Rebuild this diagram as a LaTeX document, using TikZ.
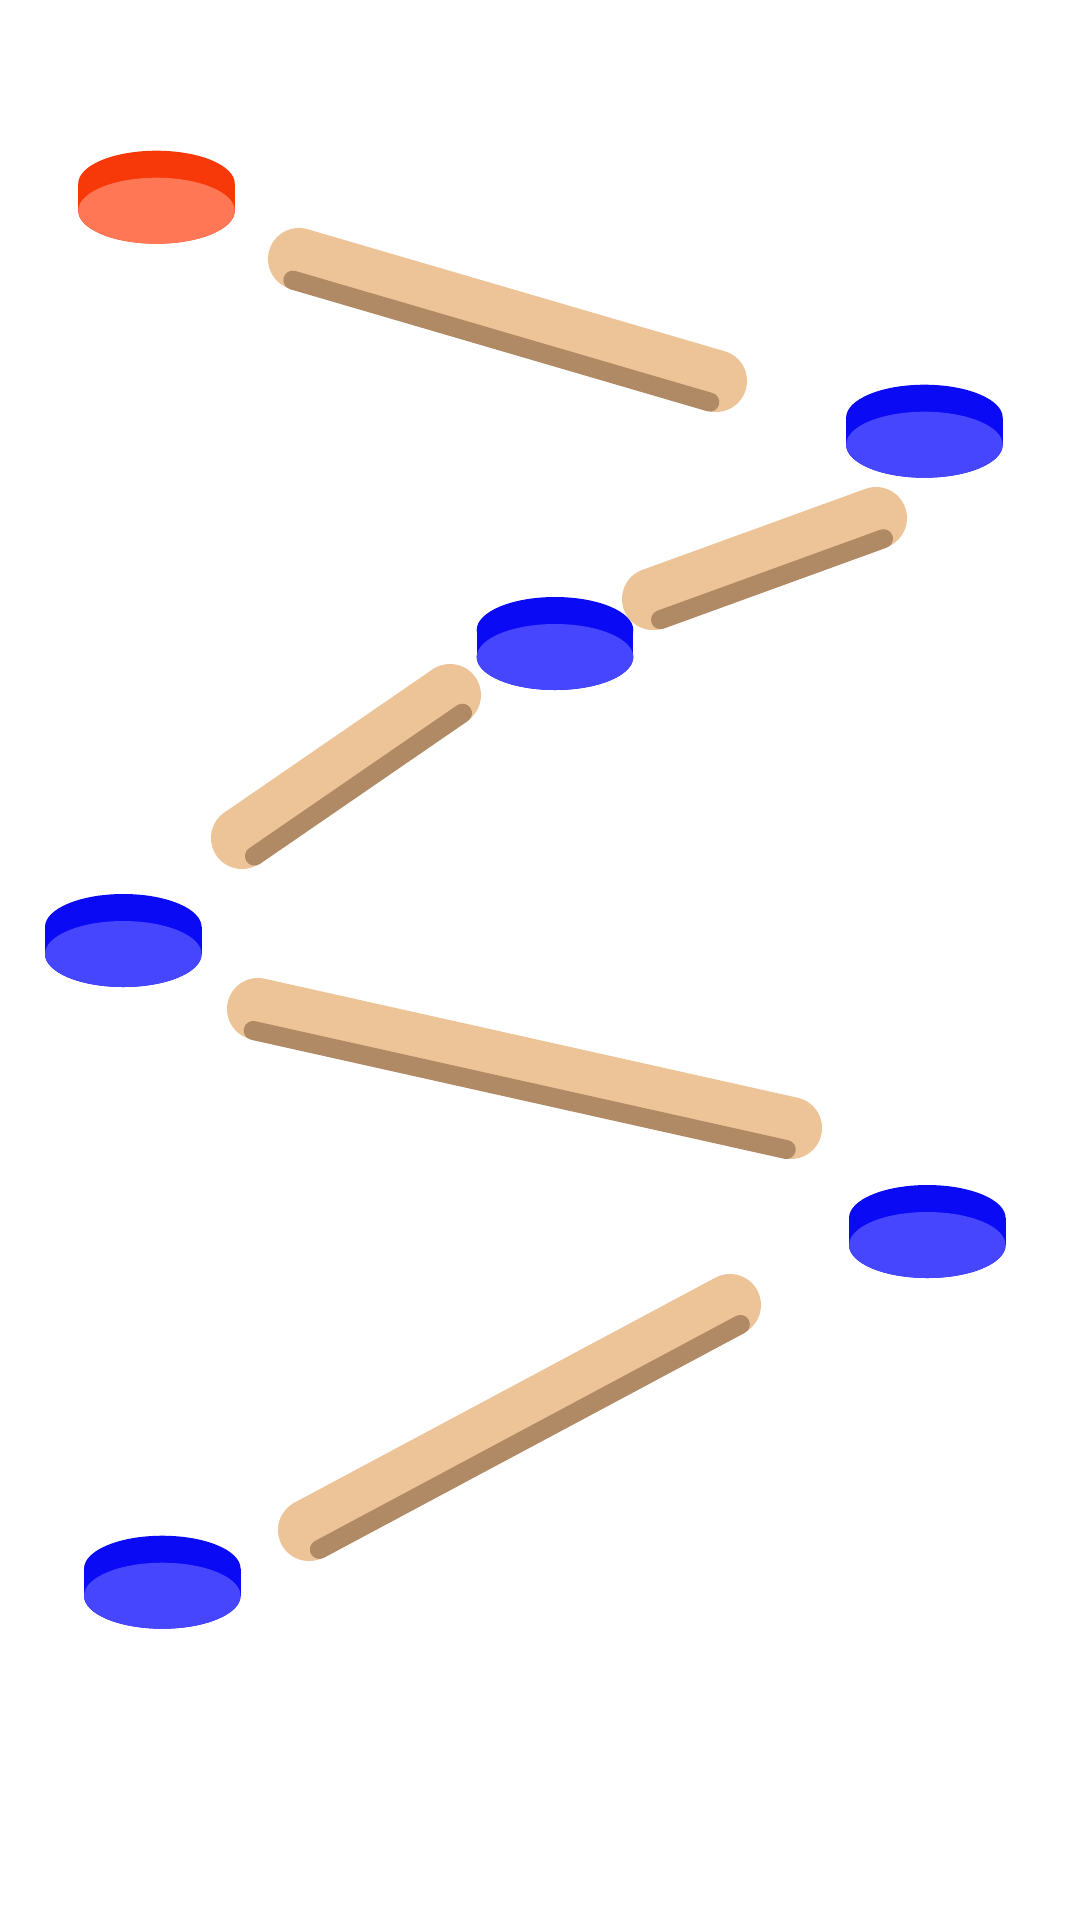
\documentclass[tikz,border=0pt]{standalone}
\usetikzlibrary{calc}
\definecolor{redtop}{RGB}{247,56,9}
\definecolor{redface}{RGB}{255,119,85}
\definecolor{bluetop}{RGB}{10,10,245}
\definecolor{blueface}{RGB}{70,70,255}
\definecolor{bartan}{RGB}{237,195,152}
\definecolor{bardark}{RGB}{176,137,101}
\tikzset{
  barbody/.style={draw=bartan, line width=62pt, line cap=round},
  barshade/.style={draw=bardark, line width=19pt, line cap=round},
}
\newcommand\puckdisk[4]{%
  \fill[#3] (#1,#2-27) ellipse [x radius=78.3, y radius=33];
  \fill[#3] (#1-78.3,#2-27) rectangle (#1+78.3,#2);
  \fill[#3] (#1,#2) ellipse [x radius=78.3, y radius=33];
  \fill[#4] (#1,#2) ellipse [x radius=78.3, y radius=33];
}
\newcommand\tanbar[5]{%
  \coordinate (#1s) at (#2,#3);
  \coordinate (#1e) at (#4,#5);
  \draw[barbody] (#1s) -- (#1e);
  \draw[barshade] ($(#1s)!22pt!-90:(#1e)$) -- ($(#1e)!22pt!90:(#1s)$);
}
\begin{document}
\begin{tikzpicture}[x=1pt,y=-1pt]
\useasboundingbox (0,0) rectangle (1080,1920);
\tanbar{ba}{299}{259}{716}{381}
\tanbar{bb}{653}{599}{876}{518}
\tanbar{bc}{242}{838}{450}{695}
\tanbar{bd}{258}{1009}{791}{1128}
\tanbar{be}{309}{1530}{730}{1305}
\puckdisk{156.5}{210.7}{redtop}{redface}
\puckdisk{924.4}{444.7}{bluetop}{blueface}
\puckdisk{555}{657}{bluetop}{blueface}
\puckdisk{123.3}{954}{bluetop}{blueface}
\puckdisk{927.3}{1245}{bluetop}{blueface}
\puckdisk{162.3}{1595.7}{bluetop}{blueface}
\end{tikzpicture}
\end{document}
